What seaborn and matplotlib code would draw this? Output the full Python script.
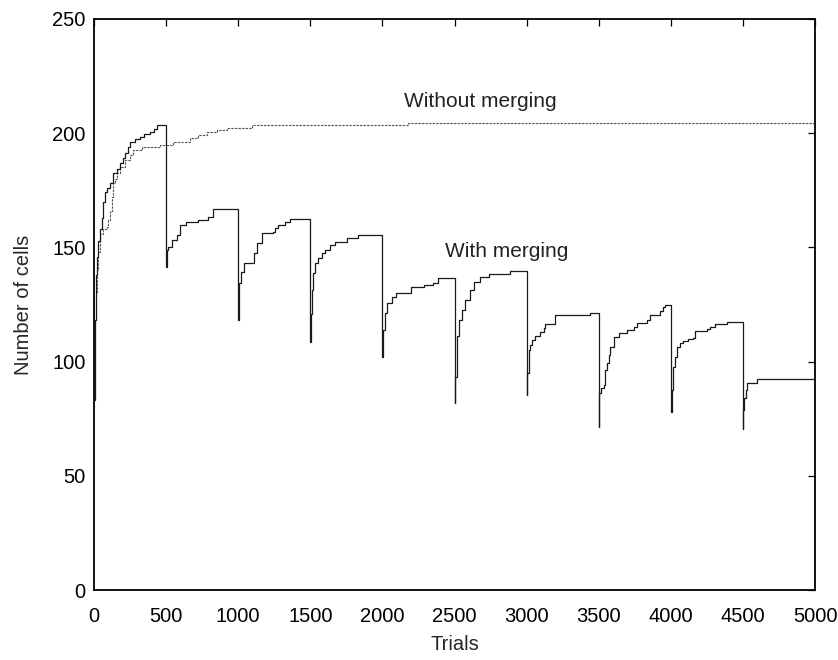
import matplotlib
matplotlib.use("Agg")
import matplotlib.pyplot as plt
import seaborn as sns
import pandas as pd

# ---- data ----
with_x = [0, 4, 8, 12, 16, 22, 30, 45, 53, 65, 76, 90, 111, 134, 160, 180, 200, 215, 235, 250, 285, 319, 350, 389, 415, 435,
          500, 504, 512, 539, 574, 597, 640, 724, 793, 828,
          1000, 1007, 1018, 1041, 1110, 1133, 1168, 1244, 1255, 1278, 1325, 1359,
          1500, 1503, 1510, 1522, 1533, 1556, 1579, 1603, 1637, 1672, 1753, 1834,
          2000, 2007, 2016, 2035, 2070, 2093, 2197, 2290, 2348, 2383,
          2500, 2505, 2516, 2528, 2551, 2574, 2609, 2632, 2679, 2736, 2886,
          3000, 3004, 3015, 3027, 3038, 3061, 3096, 3119, 3131, 3200, 3443,
          3500, 3505, 3516, 3535, 3546, 3557, 3570, 3581, 3604, 3639, 3697, 3743, 3766, 3836, 3859, 3928, 3947, 3963,
          4000, 4007, 4018, 4030, 4046, 4065, 4088, 4122, 4157, 4169, 4250, 4273, 4307, 4390,
          4500, 4502, 4507, 4519, 4526, 4600, 5000]
with_y = [83, 100, 118, 130, 138, 146, 153, 158, 163, 170, 174.4, 176, 178, 182.4, 184.5, 186.8, 189, 191.2, 194, 196.3, 197.5, 198.5, 199.5, 200.7, 202, 203.6,
          141.6, 148.9, 150, 153.2, 155.4, 159.8, 161, 162, 163.5, 166.6,
          118.2, 134.3, 139.4, 143, 147.4, 151.8, 156.2, 156.9, 158.3, 159.8, 161.3, 162.6,
          108.7, 121, 131.3, 138.7, 143, 145.2, 147.4, 148.9, 151, 152.5, 154, 155.4,
          102.1, 113.8, 121.2, 125.5, 128.4, 130.2, 132.8, 133.5, 134.5, 136.5,
          81.7, 93.4, 111, 118.2, 122.6, 127, 131.3, 135, 137.2, 138.4, 139.5,
          85.4, 94.9, 105, 107.3, 109.5, 111.2, 113.1, 114.6, 116.5, 120.4, 121.4,
          71.5, 86.1, 88.3, 89.8, 96.3, 99.3, 103, 106.5, 110.9, 112.4, 113.8, 115, 117, 118.2, 120.4, 122.2, 124, 124.7,
          78.1, 87.6, 97.8, 102.1, 106.5, 108, 109.2, 109.8, 110.2, 113.5, 114.1, 115.3, 116.5, 117.2,
          70.4, 78.8, 83.9, 87.6, 90.5, 92.2, 92.2]

without_x = [0, 5, 10, 15, 22, 30, 42, 65, 88, 99, 111, 122, 134, 145, 157, 180, 215, 250, 273, 331, 458, 550, 666, 720, 782,
             850, 920, 1094, 2180, 5000]
without_y = [83, 100, 118, 130, 140, 148, 156, 158, 159, 162, 166, 172, 178, 180, 182.4, 185.3, 188.3, 190.5, 192.6, 194, 194.8,
             196.3, 197.8, 199, 200.7, 201.5, 202.1, 203.6, 204.3, 204.3]

x_ticks = [0, 500, 1000, 1500, 2000, 2500, 3000, 3500, 4000, 4500, 5000]
y_ticks = [0, 50, 100, 150, 200, 250]
label_without = "Without merging"
label_with = "With merging"

# ---- plot ----
sns.set_style("white")
plt.rcParams["font.family"] = ["Liberation Sans", "DejaVu Sans"]

fig = plt.figure(figsize=(8.38, 6.6), dpi=100)
ax = fig.add_axes([94 / 838, 70 / 660, 721 / 838, 571 / 660])

df_with = pd.DataFrame({"Trials": with_x, "cells": with_y})
df_without = pd.DataFrame({"Trials": without_x, "cells": without_y})

sns.lineplot(data=df_without, x="Trials", y="cells", ax=ax, estimator=None, sort=False,
             drawstyle="steps-post", color="#555555", linewidth=0.8, linestyle=(0, (2.2, 1.0)))
sns.lineplot(data=df_with, x="Trials", y="cells", ax=ax, estimator=None, sort=False,
             drawstyle="steps-post", color="#1a1a1a", linewidth=0.9)

ax.set_xlim(0, 5000)
ax.set_ylim(0, 250)
ax.set_xticks(x_ticks)
ax.set_yticks(y_ticks)
ax.tick_params(direction="in", length=5, width=0.9, top=True, right=True,
               labelsize=14.5, colors="black")
ax.tick_params(axis="x", pad=12)
ax.tick_params(axis="y", pad=6)
for s in ax.spines.values():
    s.set_visible(True)
    s.set_color("black")
    s.set_linewidth(1.3)

ax.set_xlabel("Trials", fontsize=14.5, labelpad=7)
ax.set_ylabel("Number of cells", fontsize=14.5, labelpad=14)

ax.text(2682, 211.5, label_without, fontsize=15, ha="center", va="baseline", color="#222222")
ax.text(2859, 145.9, label_with, fontsize=15, ha="center", va="baseline", color="#222222")

fig.savefig("out.png", dpi=100)
